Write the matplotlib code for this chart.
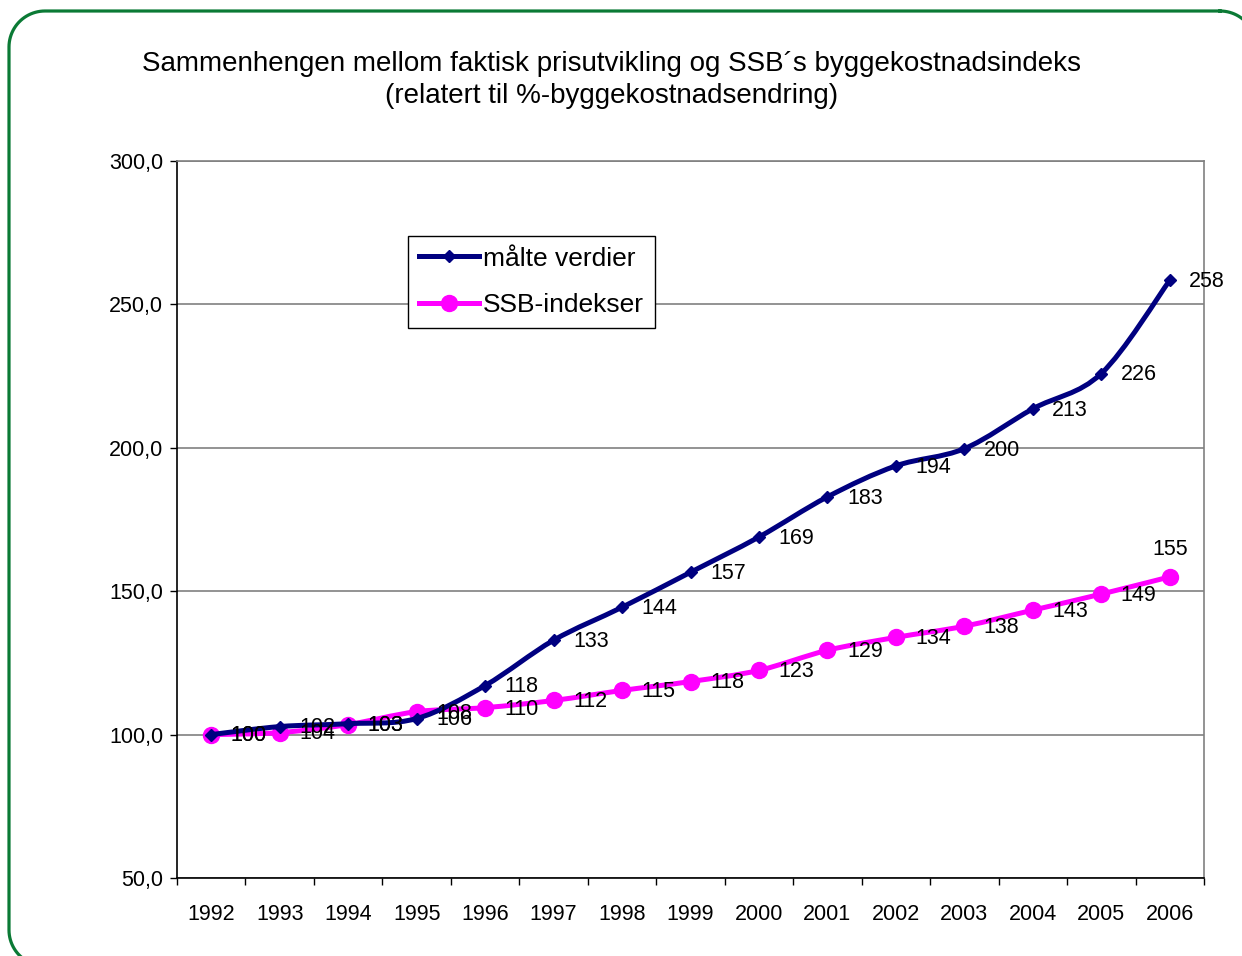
import matplotlib
matplotlib.use("Agg")
import matplotlib.pyplot as plt
from matplotlib.path import Path
from matplotlib.patches import PathPatch
from matplotlib.lines import Line2D
from matplotlib import font_manager
import numpy as np

years = ["1992", "1993", "1994", "1995", "1996", "1997", "1998", "1999",
         "2000", "2001", "2002", "2003", "2004", "2005", "2006"]
maalte = [100, 102.8, 103.8, 105.6, 117.1, 132.9, 144.4, 156.6, 168.9,
          182.9, 193.7, 199.7, 213.6, 225.9, 258.4]
maalte_labels = ["100", "102", "103", "106", "118", "133", "144", "157", "169",
                 "183", "194", "200", "213", "226", "258"]
ssb = [100, 100.7, 103.5, 108.0, 109.4, 111.9, 115.4, 118.5, 122.4,
       129.4, 133.9, 137.8, 143.4, 149.0, 155.0]
ssb_labels = ["100", "104", "103", "108", "110", "112", "115", "118", "123",
              "129", "134", "138", "143", "149", "155"]

title_text = ("Sammenhengen mellom faktisk prisutvikling og SSB\u00b4s byggekostnadsindeks\n"
              "(relatert til %-byggekostnadsendring)")

avail = {f.name for f in font_manager.fontManager.ttflist}
base_font = "Liberation Sans" if "Liberation Sans" in avail else "DejaVu Sans"
title_font = "Liberation Sans Narrow" if "Liberation Sans Narrow" in avail else base_font
plt.rcParams["font.family"] = [base_font, "DejaVu Sans"]

BLUE = "#000080"
PINK = "#FF00FF"
GREEN = "#0B7A35"

W, H = 1242, 956
fig = plt.figure(figsize=(W / 100, H / 100), dpi=100)
fig.patch.set_facecolor("white")

# background axes in pixel units (y downward) for the rounded green frame
bg = fig.add_axes([0, 0, 1, 1])
bg.set_xlim(0, W)
bg.set_ylim(H, 0)
bg.axis("off")


def rounded_rect(x0, y0, x1, y1, r, n=24):
    pts = []
    corners = [((x1 - r, y0 + r), -90, 0), ((x1 - r, y1 - r), 0, 90),
               ((x0 + r, y1 - r), 90, 180), ((x0 + r, y0 + r), 180, 270)]
    for (cx, cy), a0, a1 in corners:
        t = np.radians(np.linspace(a0, a1, n))
        pts += list(zip(cx + r * np.cos(t), cy + r * np.sin(t)))
    pts.append(pts[0])
    return pts


fr = np.array(rounded_rect(9, 11, 1256, 966, 36))
bg.plot(fr[:, 0], fr[:, 1], color=GREEN, linewidth=2.3, clip_on=False,
        solid_joinstyle="round")

ax = fig.add_axes([177 / W, 1 - 878 / H, (1204 - 177) / W, (878 - 161) / H])
x = np.arange(len(years))


def smooth_path(xs, ys):
    pts = np.column_stack([xs, ys]).astype(float)
    verts = [pts[0]]
    codes = [Path.MOVETO]
    n = len(pts)
    for i in range(n - 1):
        p0 = pts[i - 1] if i > 0 else pts[i]
        p1 = pts[i]
        p2 = pts[i + 1]
        p3 = pts[i + 2] if i + 2 < n else pts[i + 1]
        c1 = p1 + (p2 - p0) / 6.0
        c2 = p2 - (p3 - p1) / 6.0
        verts += [c1, c2, p2]
        codes += [Path.CURVE4] * 3
    return Path(verts, codes)


ax.add_patch(PathPatch(smooth_path(x, ssb), fill=False, edgecolor=PINK,
                       linewidth=3.6, capstyle="round", joinstyle="round", zorder=3))
ax.plot(x, ssb, linestyle="none", marker="o", markersize=11.5, color=PINK, zorder=4)
ax.add_patch(PathPatch(smooth_path(x, maalte), fill=False, edgecolor=BLUE,
                       linewidth=3.6, capstyle="round", joinstyle="round", zorder=5))
ax.plot(x, maalte, linestyle="none", marker="D", markersize=6.5, color=BLUE, zorder=6)

lab_fs = 15.5
for i, (v, t) in enumerate(zip(ssb, ssb_labels)):
    if i == len(ssb) - 1:
        ax.annotate(t, (i, v), xytext=(0, 12), textcoords="offset points",
                    ha="center", va="bottom", fontsize=lab_fs, zorder=7)
    else:
        ax.annotate(t, (i, v), xytext=(14, -1), textcoords="offset points",
                    ha="left", va="center", fontsize=lab_fs, zorder=7)
for i, (v, t) in enumerate(zip(maalte, maalte_labels)):
    ax.annotate(t, (i, v), xytext=(14, -1), textcoords="offset points",
                ha="left", va="center", fontsize=lab_fs, zorder=7)

ax.set_xlim(-0.5, len(years) - 0.5)
ax.set_ylim(50, 300)
yt = [50, 100, 150, 200, 250, 300]
ax.set_yticks(yt)
ax.set_yticklabels([f"{v:.1f}".replace(".", ",") for v in yt], fontsize=15.5)
ax.set_xticks(np.arange(-0.5, len(years), 1.0))
ax.set_xticklabels([])
ax.set_xticks(x, minor=True)
ax.set_xticklabels(years, minor=True, fontsize=15.5)
ax.tick_params(axis="x", which="major", direction="out", length=5, width=1, color="black")
ax.tick_params(axis="x", which="minor", length=0, pad=18.5)
ax.tick_params(axis="y", direction="out", length=5, width=1, color="black", pad=5)

ax.grid(axis="y", color="#808080", linewidth=1.2, zorder=0)
ax.set_axisbelow(True)
for s in ["top", "right"]:
    ax.spines[s].set_color("#808080")
    ax.spines[s].set_linewidth(1.2)
ax.spines["left"].set_color("black")
ax.spines["bottom"].set_color("black")
ax.spines["left"].set_linewidth(1.2)
ax.spines["bottom"].set_linewidth(1.2)

handles = [Line2D([], [], color=BLUE, linewidth=3.6, marker="D", markersize=6.5),
           Line2D([], [], color=PINK, linewidth=3.6, marker="o", markersize=11.5)]
leg = ax.legend(handles, ["m\u00e5lte verdier", "SSB-indekser"], loc="upper left",
                bbox_to_anchor=((408 - 177) / 1027, 1 - (236 - 161) / 717),
                borderaxespad=0, fontsize=19, frameon=True, fancybox=False,
                edgecolor="black", handlelength=2.3, handletextpad=0.15,
                borderpad=0.4, labelspacing=0.85, framealpha=1)
leg.get_frame().set_linewidth(1.0)
leg.set_zorder(10)

fig.text(612 / W, 1 - 80 / H, title_text, ha="center", va="center",
         fontsize=20, family=[title_font, "DejaVu Sans"], linespacing=1.3)

fig.savefig("out.png", dpi=100)
